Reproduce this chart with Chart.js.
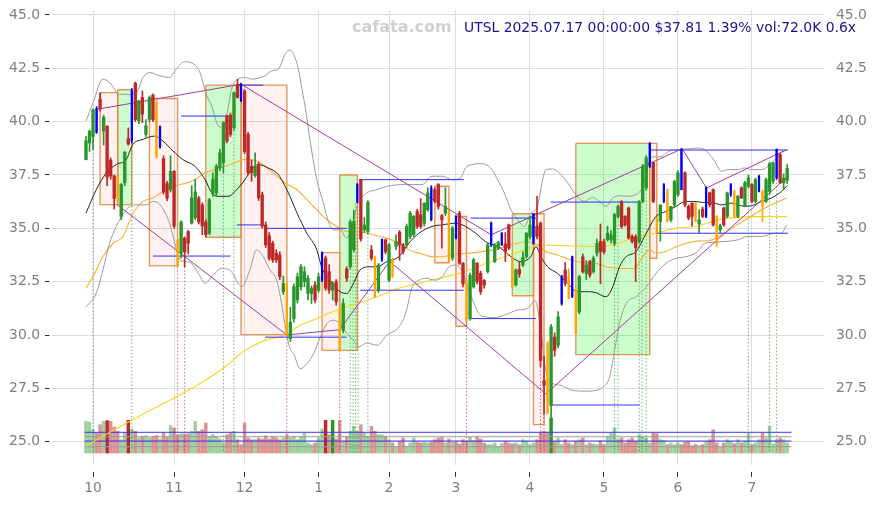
<!DOCTYPE html>
<html><head><meta charset="utf-8">
<script src="https://cdn.jsdelivr.net/npm/chart.js@4.4.1/dist/chart.umd.min.js"></script>
<style>html,body{margin:0;padding:0;background:#fff;}#wrap{width:875px;height:506px;}</style>
</head><body><div id="wrap"><canvas id="c" width="875" height="506"></canvas></div>
<script>
// ---------- DATA ----------
const headerText = 'UTSL 2025.07.17 00:00:00 $37.81 1.39% vol:72.0K 0.6x';
const watermarkText = 'cafata.com';
const monthTickIdx = [2,25,45,66,86,105,126,147,168,189];
const monthTickLabels = ['10','11','12','1','2','3','4','5','6','7'];
const priceTicks = [25,27.5,30,32.5,35,37.5,40,42.5,45];

const opens = [
38.22,39.0,39.3,40.6,41.05,39.56,39.79,38.2,37.45,37.45,
35.56,37.13,39.2,39.1,41.8,40.03,41.13,39.4,40.11,41.24,
40.9,38.8,38.26,37.1,36.8,37.67,34.45,33.83,34.54,34.85,
35.24,35.5,36.42,36.1,35.3,34.77,36.6,36.66,37.83,38.07,
40.26,40.3,39.71,41.75,41.75,41.44,39.4,37.91,37.47,38.0,
36.58,35.16,34.65,34.3,33.83,33.75,32.03,32.42,29.83,30.77,
31.64,32.26,32.5,31.95,31.95,32.34,32.1,32.57,33.6,32.97,
32.1,32.5,31.2,30.22,33.1,33.2,33.99,36.26,37.28,34.93,
34.85,33.99,33.6,32.1,33.52,34.46,32.57,33.52,34.14,34.82,
34.22,34.22,34.62,34.7,35.79,35.64,35.24,35.87,36.89,36.81,
37.05,35.59,35.71,35.79,33.6,35.56,35.71,33.36,32.5,30.77,
32.26,33.36,32.89,32.57,32.97,34.22,33.44,34.07,34.22,34.27,
35.16,33.6,32.34,33.08,33.28,33.67,34.62,34.3,35.09,35.24,
27.87,29.6,26.7,29.9,29.52,31.48,33.05,32.73,31.79,32.1,
31.08,33.67,32.89,33.44,32.97,33.83,34.38,34.38,34.46,34.46,
34.3,35.56,36.26,35.56,35.95,34.62,34.6,34.38,36.26,36.89,
37.91,38.07,35.48,35.32,36.26,36.81,35.4,36.1,36.58,38.69,
37.6,36.03,36.18,36.18,35.2,35.9,35.56,36.66,36.81,35.56,
34.93,35.95,35.56,36.58,36.73,35.56,36.89,36.03,36.97,37.05,
36.26,36.73,36.73,36.26,36.73,37.2,37.36,38.46,37.13,37.25];
const highs = [
39.3,39.6,40.6,40.7,41.35,40.3,39.8,38.3,37.5,37.5,
37.1,38.6,39.7,41.55,41.85,41.0,41.44,40.1,41.2,41.3,
41.0,39.8,38.4,37.2,38.4,37.7,34.5,35.35,34.6,34.9,
37.0,37.3,36.5,36.2,35.4,36.4,37.6,38.0,38.7,40.0,
40.3,40.4,41.4,41.99,41.8,41.5,39.5,38.2,38.54,38.1,
36.7,35.3,34.8,34.4,34.0,33.9,32.75,32.5,31.3,32.4,
32.9,33.3,33.2,32.8,32.3,32.5,32.9,33.9,33.7,33.3,
32.5,32.6,31.3,31.7,33.2,35.4,35.85,37.1,37.3,35.5,
36.3,34.2,33.7,33.35,34.5,34.5,34.3,33.6,34.7,34.9,
34.3,35.2,35.8,35.6,35.9,36.4,36.2,36.9,37.0,36.9,
37.1,35.65,36.9,35.85,35.1,35.6,35.8,33.4,32.55,32.9,
33.6,33.4,33.0,32.6,34.3,35.3,34.3,34.4,34.8,34.8,
35.2,33.65,33.1,33.44,33.9,34.8,35.55,35.7,36.5,35.3,
29.0,29.7,30.5,30.1,31.1,32.8,33.4,33.1,33.7,32.15,
32.8,33.8,33.5,33.5,33.7,34.5,35.2,34.5,35.1,34.9,
35.7,36.1,36.3,35.6,36.0,34.7,34.7,36.3,38.0,38.4,
39.0,38.1,35.5,36.1,37.1,36.85,36.03,37.25,37.7,38.75,
37.65,36.1,36.2,36.2,35.87,36.0,36.95,36.7,36.85,35.6,
35.2,36.0,36.7,37.1,36.8,36.55,36.95,37.2,37.5,37.1,
37.35,37.5,36.8,37.35,38.1,38.1,38.72,38.5,37.55,38.0];
const lows = [
38.2,38.6,38.7,39.45,40.5,38.9,37.0,37.3,35.9,36.2,
35.4,37.0,38.9,39.0,40.0,39.9,39.95,39.3,40.0,40.0,
38.3,38.75,36.6,36.3,36.7,35.0,33.2,33.6,33.2,33.8,
35.2,35.4,35.2,34.7,34.6,34.7,36.5,36.5,37.7,37.6,
39.0,39.3,39.6,41.1,40.95,38.5,37.5,37.2,37.4,36.3,
35.0,34.1,33.5,33.4,33.4,32.6,31.9,29.99,29.7,30.6,
31.5,32.1,32.26,31.64,31.48,31.5,32.0,32.5,32.1,31.95,
31.64,31.4,29.28,30.1,32.5,33.1,33.9,36.2,34.4,34.8,
34.75,33.5,31.75,32.0,33.45,33.8,32.5,32.7,34.0,33.5,
33.8,34.1,34.5,34.6,35.0,35.0,35.1,35.8,35.35,36.2,
35.9,34.07,35.6,33.4,33.5,34.5,33.3,32.26,30.65,30.7,
32.2,32.4,31.9,32.2,32.9,34.15,33.4,34.0,34.2,33.44,
34.0,32.2,32.3,32.7,33.2,33.6,34.5,34.25,34.5,28.5,
26.3,26.3,25.8,29.0,29.4,31.4,32.3,31.7,31.75,30.05,
31.0,32.9,32.6,32.7,32.9,33.7,32.4,33.8,34.4,34.3,
34.2,35.5,35.0,35.1,34.5,34.3,32.5,34.3,36.2,36.8,
37.85,36.2,34.77,34.4,36.2,35.3,35.3,36.0,36.5,36.8,
36.0,35.4,35.1,35.3,34.77,35.5,35.5,36.0,35.1,34.15,
34.8,35.1,35.5,36.5,35.5,35.5,36.4,36.0,36.9,36.2,
36.2,36.7,35.3,36.2,36.6,37.1,37.3,37.1,36.8,37.1];
const closes = [
39.1,39.55,40.55,39.5,40.6,40.2,37.4,37.45,36.4,36.25,
37.05,38.57,38.95,41.45,40.1,40.97,40.35,39.8,41.13,40.1,
38.35,39.75,36.7,36.42,37.67,35.1,33.25,35.3,33.9,34.3,
36.42,36.7,35.3,35.1,34.7,36.34,37.3,37.9,38.54,39.95,
39.1,39.4,41.36,41.13,40.97,38.6,37.6,37.6,37.91,36.42,
35.1,34.22,33.6,33.52,33.52,32.73,32.42,30.02,30.6,32.26,
32.73,33.2,32.97,32.66,32.19,31.64,32.73,33.86,32.2,32.1,
32.42,31.56,29.35,31.48,32.66,35.3,35.32,37.05,34.5,35.16,
36.22,33.6,31.8,33.28,34.49,33.9,34.22,32.73,34.38,34.22,
33.9,35.09,35.71,35.56,35.09,35.09,36.18,36.66,35.4,36.26,
36.03,35.4,36.03,33.44,35.01,34.54,33.36,32.4,30.7,32.8,
33.52,32.5,32.03,32.34,34.22,35.24,34.22,34.33,34.77,33.9,
34.07,32.26,33.05,32.86,33.64,34.77,35.16,35.68,34.62,28.81,
27.64,26.35,30.38,29.28,30.85,32.73,32.42,31.71,33.67,30.07,
32.73,32.97,33.28,32.81,33.6,34.3,33.9,33.9,34.77,34.7,
35.64,36.03,35.09,35.16,34.54,34.38,34.1,36.26,37.91,38.3,
39.0,36.26,34.8,36.1,37.05,35.32,36.03,37.2,37.6,36.81,
36.1,35.48,35.56,35.32,35.4,35.56,36.89,36.1,35.16,34.3,
35.12,35.16,36.66,37.05,35.56,36.5,36.42,37.13,37.36,36.26,
37.28,37.44,36.03,37.28,38.03,38.07,38.69,37.13,37.36,37.81];
// candle marker kind: g up, r down, b blue mark, o orange mark
const kinds = 'gggbrgrrro'+'ggrbrgrggr'+'obrrgrogrr'+'ggrrrggggg'+'rrgrbrrrgr'+
              'rrrrrrgogg'+'gggggrgbrr'+'grogrggbrg'+'grogbrgogr'+'rgggrrggbr'+
              'rrgogbrrog'+'grrrgbggbr'+'rogrgggbrr'+'rogrgbrobo'+'grgrggrrgg'+
              'ggrrrrrggg'+'brogbogggb'+'rrrogrbrro'+'grgbogrggr'+'gbogggbrgg';
const volumes = [
228,221,168,144,204,228,233,228,187,156,
96,149,235,173,156,108,120,125,108,120,
125,101,144,113,197,180,132,139,137,138,
156,228,156,168,216,120,132,120,101,72,
132,144,156,96,60,216,108,96,96,108,
101,125,101,120,108,96,108,132,110,120,
96,120,144,72,60,72,108,173,235,132,
235,101,235,84,120,156,192,156,204,144,
120,192,156,132,132,120,96,72,48,84,
108,48,72,108,77,72,77,72,77,96,
108,113,72,101,77,84,65,96,84,113,
89,120,101,72,60,60,72,48,67,84,
72,67,72,60,96,84,60,72,96,149,
156,149,252,84,108,60,96,72,60,84,
96,108,60,72,66,60,89,60,120,144,
180,96,108,72,96,108,84,132,120,108,
72,144,139,96,91,60,72,60,72,60,
77,84,53,62,53,60,84,96,168,72,
48,72,96,84,67,96,72,84,139,60,
72,96,144,108,192,65,96,108,96,72];
const volumeHighlight = [6,12,68,70,132];
const volumeRefLevels = [149,117,86,45];
const volumeRefKinds = ['blue','gray','blue','gray'];

// indicator lines as [index, price]
const midLine = [[0,35.71],[2.9,36.81],[5.8,37.6],[8.6,37.99],[11.4,38.22],[13.3,38.93],[16.2,39.17],[19.5,39.32],[21.8,39.09],[24.7,38.62],[27.5,38.22],[30.9,37.91],[33.8,37.28],[35.7,36.66],[37.5,36.5],[40.4,36.5],[42.3,36.73],[45.1,37.28],[47,37.75],[48.9,37.99],[51.7,37.83],[54.6,37.52],[56.5,36.97],[57.9,36.5],[59.9,35.71],[62.7,34.77],[65.5,33.99],[67,33.12],[69.3,32.57],[72.1,32.03],[74,31.95],[75.9,32.42],[77.8,33.05],[80.7,33.2],[82.6,33.2],[85.4,33.44],[88.8,33.67],[91.6,34.3],[94.5,34.77],[98.2,35.09],[101.1,35.16],[104.9,35.24],[107.7,35.09],[110.6,34.77],[113.4,34.38],[115.7,34.22],[117.7,34.07],[120.6,33.67],[123.4,33.44],[126.2,33.67],[127.7,34.14],[129.1,33.67],[131,33.2],[133.8,32.89],[136.7,32.42],[139.5,32.03],[142.3,32.03],[144.5,32.0],[147.6,31.79],[149.5,32.26],[151.4,33.2],[153.3,33.67],[156.1,33.91],[159,34.77],[161.8,35.56],[164.6,35.79],[167.5,36.03],[169.4,36.22],[172.2,36.26],[174.7,36.22],[178.4,36.18],[180.3,36.1],[183.2,36.18],[187,36.03],[188.9,36.06],[191.7,36.26],[194.5,36.42],[197.4,36.73],[199,37.0]];
const upperBand = [[0,40.03],[2,40.89],[4.8,41.99],[6.7,41.83],[9.6,41.28],[12.4,41.28],[14.3,41.36],[16.2,42.07],[18.1,42.3],[20.9,42.15],[23.7,42.07],[25.6,42.46],[28,42.8],[31.9,42.46],[34.3,41.2],[35.7,40.73],[37.1,39.95],[38.5,39.71],[39.9,40.26],[41.3,41.52],[43.2,41.99],[45.1,42.07],[47,41.99],[50.8,42.15],[52.7,42.38],[54.6,42.46],[56.5,43.16],[58,43.35],[59.3,43.0],[60.3,42.46],[61.3,41.5],[62.2,40.7],[63.8,38.9],[65.5,37.28],[67.4,36.18],[68.8,35.32],[70.3,34.93],[72.1,34.93],[74,34.54],[75.4,35.09],[77.3,36.18],[79.7,36.66],[82.6,36.81],[85.4,36.97],[90.7,37.05],[95.4,37.05],[98.2,37.44],[101.1,37.44],[103.9,37.28],[106.3,37.36],[107.7,37.83],[109.6,37.99],[112.4,38.03],[114.3,37.91],[115.4,37.7],[116.8,37.28],[118.7,36.66],[120.6,35.87],[122.5,35.4],[124.4,35.09],[126.2,35.71],[128.1,36.03],[129.6,37.28],[130.5,37.75],[132.4,37.78],[134.3,37.6],[136.7,37.13],[139,36.58],[141.4,36.26],[143.8,36.45],[145.7,36.26],[147.6,36.03],[149.5,36.42],[151.4,36.53],[153.3,36.5],[156.1,36.58],[158,36.97],[159.9,38.15],[160.8,38.35],[162.8,38.35],[165.6,38.62],[168.4,38.69],[171.3,38.73],[173.6,38.76],[175.6,38.69],[178.4,38.15],[180.3,37.67],[182.2,37.75],[185,37.75],[186.9,37.83],[188.9,37.75],[191.7,37.75],[193.6,37.91],[195.5,38.22],[197.4,38.54],[198.8,38.69]];
const lowerBand = [[0,31.32],[2.9,31.95],[4.8,33.05],[6.7,34.3],[8.6,35.09],[11.4,35.87],[14.3,36.1],[17.1,36.1],[19,36.26],[21.4,36.03],[23.7,35.24],[25.2,34.3],[26.6,33.52],[28,33.45],[29.9,33.36],[31.9,32.89],[33.8,32.42],[35.7,32.73],[38.5,33.12],[41.3,32.97],[43.2,32.42],[44.2,32.26],[46.5,33.05],[48.4,33.99],[50.3,33.67],[52.2,33.05],[54.1,32.57],[55.5,31.48],[56.4,30.54],[57.9,29.36],[58.9,29.13],[60.8,28.42],[62.7,28.66],[64.6,29.13],[66.5,29.91],[68.4,30.54],[70.3,30.69],[72.1,30.54],[74,30.07],[75.9,29.75],[77.4,29.44],[79.7,29.63],[82.6,29.52],[85.4,29.99],[88.8,30.38],[90.7,31.01],[92.6,32.26],[94.5,32.57],[96.4,32.66],[99.2,32.57],[101.1,32.73],[103,33.2],[104.9,33.28],[106.8,32.97],[108.7,32.1],[111.5,31.01],[113.4,30.85],[115.7,30.82],[118.7,30.93],[122.5,31.17],[125.3,31.24],[127.5,31.6],[129.1,30.22],[130.5,28.34],[131.9,27.79],[134.8,27.64],[137.6,27.43],[141.4,27.37],[144.7,27.4],[146.7,27.56],[148.6,28.03],[150,29.28],[151.4,30.54],[153.3,31.48],[156.1,31.79],[159,32.26],[161.8,32.89],[164.6,33.36],[167.5,33.6],[170.3,33.67],[173.6,33.91],[175.6,34.3],[178.4,34.35],[181.3,34.38],[185,34.46],[187.9,34.62],[191.7,34.62],[195.5,34.77],[197.4,34.77],[198.8,35.16]];
const orangeLine = [[0,32.19],[2,32.73],[4.8,33.67],[7.7,34.3],[10.5,34.62],[13.3,35.71],[16.2,36.26],[19,36.42],[21.8,36.73],[24.7,36.97],[28.5,37.12],[30.9,37.28],[33.8,37.6],[36.6,37.75],[39.4,37.91],[42.3,38.07],[44.6,38.22],[46.5,38.22],[48.4,38.15],[50.8,37.91],[53.6,37.52],[56.7,37.1],[59.9,36.81],[62.7,36.34],[65.5,35.87],[68.4,35.4],[71.2,35.09],[74,34.85],[76.9,34.85],[79.7,34.77],[82.6,34.65],[85.4,34.54],[88.8,34.3],[91.6,33.99],[95.4,33.8],[98.2,33.67],[101.1,33.67],[104.9,33.8],[108.7,33.83],[112.4,33.91],[115.7,33.99],[118.7,34.14],[122.5,34.3],[125.3,34.38],[128.1,34.22],[130.5,33.91],[133.8,33.75],[137.6,33.52],[141.4,33.39],[144.7,33.36],[147.6,33.2],[151.4,33.12],[155.6,33.12],[158,33.67],[159.9,33.99],[161.8,33.83],[164.6,33.91],[167.5,34.14],[170.3,34.3],[173.6,34.4],[176.9,34.43],[180.3,34.7],[184.1,35.09],[187.9,35.48],[191.7,35.87],[195.5,36.18],[198.8,36.42]];
const yellowLine = [[0,24.81],[14,26.1],[28.9,27.4],[33.8,27.87],[39.4,28.5],[45.1,29.28],[50.8,29.75],[56.5,29.99],[59.9,30.38],[65.5,30.77],[71.2,31.17],[76.9,31.48],[82.6,31.79],[88.8,32.19],[94.5,32.42],[100.2,32.66],[105.9,32.89],[115,33.45],[124.4,33.99],[128.1,34.22],[144.2,34.15],[149.5,34.22],[155.2,34.54],[161.8,34.77],[167.5,35.01],[173.6,35.1],[178.4,35.37],[184.1,35.5],[189.8,35.55],[195.5,35.55],[199,35.55]];

// boxes: start index, end index, top, bottom, kind
const boxStart  = [4, 9, 18, 34, 44, 67, 72, 99, 105, 121, 127, 139, 160];
const boxEnd    = [9, 13, 26, 44, 57, 72, 77, 103, 108, 127, 130, 160, 162];
const boxTop    = [41.36,41.49,41.08,41.71,41.71,33.86,37.5,36.97,35.56,35.68,35.68,38.98,38.98];
const boxBottom = [36.11,36.11,33.24,34.58,30.02,29.28,29.28,33.39,30.41,31.84,25.8,29.08,33.6];
const boxKind   = ['r','g','r','g','r','r','g','r','r','g','r','g','r'];

// blue horizontal levels
const levelStart = [27,43.2,19,42.8,50.8,50.8,77.4,77.8,109.1,109.1,131.9,131.9,159.9,161.8];
const levelEnd   = [41.4,50.3,41,50.3,74,74,107.2,107.2,127.7,127.7,157.1,157.1,199.2,199.2];
const levelPrice = [40.26,41.71,33.7,35.16,35.0,29.9,37.28,32.1,35.48,30.77,36.23,26.72,38.67,34.77];

// purple trend segments [i1,p1,i2,p2]
const trendSegments = [
  [2.9,40.57,44,41.75],[44,41.75,115,34.7],[8.9,36.1,57,30.0],[57,30.0,72,30.25],
  [72,30.25,86.2,33.45],[86.2,33.45,130.5,27.24],[130.5,27.24,199,37.4],
  [115,34.7,169.2,38.73],[169.2,38.73,176.1,36.89],[176.1,36.89,198.8,38.69]];

// dotted signal verticals
const signalIdx  = [2,13,39,42,75,75.8,76.5,77.2,80,150,151,157,157.8,159,188,194,196,26,28,57,72,108,129,130];
const signalKind = ['g','g','g','g','g','g','g','g','g','g','g','g','g','g','g','g','g','r','r','r','r','r','r','r'];
const volumeBasePrice = 24.47;

// ---------- CHART ----------
const N = opens.length;
const idx = Array.from({length: N}, (_, i) => i);
const CAND = {g:'rgb(40,150,40)', r:'rgb(190,40,40)', b:'#0000ff', o:'#ffa500'};
const isUp = i => closes[i] >= opens[i];

const ds = [];
const pts = arr => arr.map(p => ({x:p[0], y:p[1]}));
function lineDS(points, color, width, order, extra) {
  return Object.assign({type:'line', data: points, borderColor: color, borderWidth: width,
    pointRadius: 0, pointHoverRadius: 0, fill: false, tension: 0, order: order, yAxisID: 'y'}, extra || {});
}

// boxes
for (let k = 0; k < boxStart.length; k++) {
  const fillCol = boxKind[k] === 'g' ? 'rgba(0,235,0,0.2)' : 'rgba(255,60,40,0.07)';
  ds.push(lineDS([{x:boxStart[k],y:boxTop[k]},{x:boxEnd[k],y:boxTop[k]}], 'rgba(0,0,0,0)', 0, 100,
    {fill: {value: boxBottom[k]}, backgroundColor: fillCol}));
  ds.push(lineDS([{x:boxStart[k],y:boxTop[k]},{x:boxEnd[k],y:boxTop[k]},{x:boxEnd[k],y:boxBottom[k]},
    {x:boxStart[k],y:boxBottom[k]},{x:boxStart[k],y:boxTop[k]}], 'rgba(225,140,70,0.9)', 1.4, 99));
}

// volume
ds.push({type:'bar', yAxisID:'yv', order: 90, grouped:false, barThickness: 2.8, borderWidth: 0,
  data: idx.map(i => ({x:i, y:volumes[i]})),
  backgroundColor: idx.map(i => {
    const hi = volumeHighlight.includes(i);
    if (isUp(i)) return hi ? 'rgb(40,150,40)' : 'rgba(40,150,40,0.45)';
    return hi ? 'rgb(190,40,40)' : 'rgba(190,40,40,0.5)';
  })});
volumeRefLevels.forEach((v, k) => {
  ds.push(lineDS([{x:-0.4,y:v},{x:200.2,y:v}], volumeRefKinds[k] === 'blue' ? '#3535ff' : '#9a9a9a', 1, 85, {yAxisID:'yv'}));
});

// signal dotted lines
signalIdx.forEach((x, k) => {
  const top = lows[Math.round(x)];
  ds.push(lineDS([{x:x,y:top},{x:x,y:volumeBasePrice}],
    signalKind[k] === 'g' ? 'rgba(40,150,40,0.75)' : 'rgba(190,40,40,0.75)', 0.9, 80, {borderDash:[1.5,2]}));
});

// indicator lines
const smooth = {cubicInterpolationMode:'monotone'};
ds.push(lineDS(pts(yellowLine), '#ffd21f', 1.1, 55, smooth));
ds.push(lineDS(pts(orangeLine), '#ffab2e', 1.1, 54, smooth));
ds.push(lineDS(pts(upperBand), '#9b9b9b', 1, 53, smooth));
ds.push(lineDS(pts(lowerBand), '#9b9b9b', 1, 53, smooth));
ds.push(lineDS(pts(midLine), '#111111', 0.9, 52, smooth));

// blue levels
for (let k = 0; k < levelStart.length; k++) {
  ds.push(lineDS([{x:levelStart[k],y:levelPrice[k]},{x:levelEnd[k],y:levelPrice[k]}], '#2f2fff', 1, 45));
}
// purple trend lines
trendSegments.forEach(s => ds.push(lineDS([{x:s[0],y:s[1]},{x:s[2],y:s[3]}], '#a23ca2', 1, 40)));

// candles
ds.push({type:'bar', yAxisID:'y', order: 3, grouped:false, barThickness: 1, borderWidth: 0,
  data: idx.map(i => ({x:i, y:[lows[i], highs[i]]})),
  backgroundColor: idx.map(i => CAND[kinds[i]])});
const normalIdx = idx.filter(i => kinds[i] === 'g' || kinds[i] === 'r');
const specialIdx = idx.filter(i => kinds[i] === 'b' || kinds[i] === 'o');
ds.push({type:'bar', yAxisID:'y', order: 2, grouped:false, barThickness: 2.7, borderWidth: 0, minBarLength: 1,
  data: normalIdx.map(i => ({x:i, y:[Math.min(opens[i],closes[i]), Math.max(opens[i],closes[i])]})),
  backgroundColor: normalIdx.map(i => CAND[kinds[i]])});
ds.push({type:'bar', yAxisID:'y', order: 1, grouped:false, barThickness: 1.6, borderWidth: 0, minBarLength: 1,
  data: specialIdx.map(i => ({x:i, y:[Math.min(opens[i],closes[i]), Math.max(opens[i],closes[i])]})),
  backgroundColor: specialIdx.map(i => CAND[kinds[i]])});

const textPlugin = {
  id: 'headerText',
  afterDraw(chart) {
    const ctx = chart.ctx;
    ctx.save();
    ctx.textBaseline = 'alphabetic';
    ctx.font = 'bold 16px "DejaVu Sans"';
    ctx.fillStyle = '#cfcfcf';
    ctx.textAlign = 'left';
    ctx.fillText(watermarkText, 352, 32);
    ctx.font = '13.9px "DejaVu Sans"';
    ctx.fillStyle = '#15158c';
    ctx.textAlign = 'right';
    ctx.fillText(headerText, 856, 32);
    ctx.restore();
  }
};

Chart.defaults.font.family = '"DejaVu Sans", sans-serif';
Chart.defaults.font.size = 13.9;
const tickFont = {family:'"DejaVu Sans"', size: 13.9};
const setPriceTicks = s => { s.ticks = priceTicks.map(v => ({value: v})); };

new Chart(document.getElementById('c'), {
  type: 'bar',
  data: { datasets: ds },
  plugins: [textPlugin],
  options: {
    responsive: false, animation: false, events: [],
    layout: { padding: { top: 10, left: 0, right: 0, bottom: 0 } },
    plugins: { legend: {display:false}, tooltip: {enabled:false}, title: {display:false} },
    scales: {
      x: {
        type: 'linear', min: -9.65, max: 209.45, offset: false,
        afterBuildTicks: s => { s.ticks = monthTickIdx.map(v => ({value: v})); },
        afterFit: s => { s.height = 41; },
        ticks: { autoSkip: false, maxRotation: 0, color: '#7f7f7f', font: tickFont, padding: 3,
          callback: v => { const k = monthTickIdx.indexOf(v); return k >= 0 ? monthTickLabels[k] : ''; } },
        grid: { color: '#dddddd', offset: false, tickLength: 12, tickColor: '#333333', tickBorderDash: [0,7,5,100] },
        border: { display: false }
      },
      y: {
        type: 'linear', position: 'left', min: 23.91, max: 45.23,
        afterBuildTicks: setPriceTicks,
        afterFit: s => { s.width = 52; },
        ticks: { color: '#7f7f7f', font: tickFont, padding: 0, callback: v => Number(v).toFixed(1) },
        grid: { color: '#dddddd', tickLength: 12, tickColor: '#333333', tickBorderDash: [0,5,4.5,20] },
        border: { display: false }
      },
      y2: {
        type: 'linear', position: 'right', min: 23.91, max: 45.23,
        afterBuildTicks: setPriceTicks,
        afterFit: s => { s.width = 51; },
        ticks: { color: '#7f7f7f', font: tickFont, padding: 0, callback: v => Number(v).toFixed(1) },
        grid: { drawOnChartArea: false, drawTicks: true, tickLength: 12, tickColor: 'rgba(0,0,0,0)' },
        border: { display: false }
      },
      yv: { type: 'linear', display: false, min: -86.4, max: 3189.6 }
    }
  }
});
</script>
</body></html>
